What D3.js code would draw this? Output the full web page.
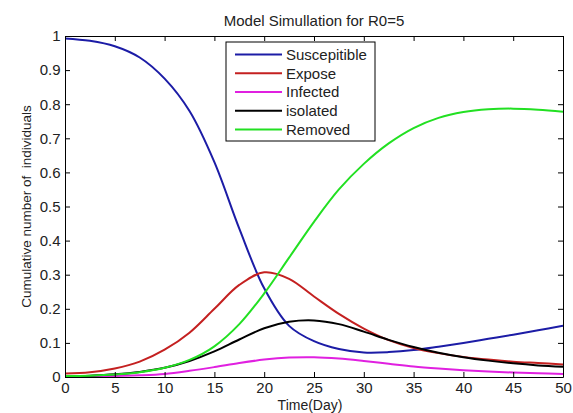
<!DOCTYPE html>
<html>
<head>
<meta charset="utf-8">
<script src="https://cdn.jsdelivr.net/npm/d3@7"></script>
<style>
  body { margin: 0; background: #fff; }
  text { font-family: Arial, "Liberation Sans", sans-serif; fill: #222; }
</style>
</head>
<body>
<svg id="chart" width="573" height="413"></svg>
<script>
// values, every 2.5 days
days = d3.range(0, 50.01, 2.5);
susceptible = [0.993, 0.986, 0.970, 0.937, 0.875, 0.78, 0.63, 0.435, 0.26, 0.15, 0.105, 0.082, 0.072, 0.073, 0.079, 0.089, 0.1, 0.112, 0.124, 0.137, 0.15];
expose      = [0.01, 0.014, 0.025, 0.045, 0.08, 0.13, 0.2, 0.27, 0.307, 0.288, 0.236, 0.185, 0.142, 0.108, 0.085, 0.07, 0.059, 0.051, 0.045, 0.041, 0.037];
infected    = [0.0, 0.001, 0.003, 0.005, 0.009, 0.018, 0.029, 0.041, 0.051, 0.057, 0.058, 0.054, 0.047, 0.039, 0.031, 0.025, 0.02, 0.016, 0.013, 0.011, 0.009];
isolated    = [0.002, 0.004, 0.008, 0.015, 0.027, 0.047, 0.075, 0.11, 0.143, 0.162, 0.166, 0.155, 0.133, 0.109, 0.088, 0.071, 0.058, 0.048, 0.04, 0.034, 0.03];
removed     = [0.003, 0.004, 0.007, 0.014, 0.027, 0.05, 0.09, 0.155, 0.245, 0.35, 0.455, 0.55, 0.625, 0.685, 0.73, 0.76, 0.777, 0.785, 0.787, 0.784, 0.778];

seriesNames = ["Suscepitible", "Expose", "Infected", "isolated", "Removed"];
seriesValues = [susceptible, expose, infected, isolated, removed];
seriesColors = ["#1c1ca6", "#c42020", "#e020e0", "#000000", "#22e022"];

xTicks = d3.range(0, 51, 5);
yTicks = d3.range(0, 1.01, 0.1);

const svg = d3.select("#chart");
const m = {left: 65, top: 36, right: 563, bottom: 377};

const x = d3.scaleLinear().domain([0, 50]).range([m.left, m.right]);
const y = d3.scaleLinear().domain([0, 1]).range([m.bottom, m.top]);

// curves (clipped to the plot box)
svg.append("clipPath").attr("id", "clip")
  .append("rect")
    .attr("x", m.left).attr("y", m.top)
    .attr("width", m.right - m.left).attr("height", m.bottom - m.top);

const line = d3.line()
  .x((d, i) => x(days[i]))
  .y(d => y(d))
  .curve(d3.curveCatmullRom.alpha(0.5));

svg.append("g").attr("clip-path", "url(#clip)")
  .selectAll("path")
  .data(seriesValues)
  .join("path")
    .attr("d", line)
    .attr("fill", "none")
    .attr("stroke", (d, i) => seriesColors[i])
    .attr("stroke-width", 2);

// axes, matlab style: box with inward ticks on every side
const fmt = d => d3.format("")(+d.toFixed(1));

svg.append("g")
  .attr("transform", `translate(0,${m.bottom})`)
  .call(d3.axisBottom(x).tickValues(xTicks).tickSizeInner(-5).tickSizeOuter(0).tickPadding(5))
  .call(g => g.selectAll("text").style("font-size", "15px"));
svg.append("g")
  .attr("transform", `translate(0,${m.top})`)
  .call(d3.axisTop(x).tickValues(xTicks).tickSizeInner(-5).tickSizeOuter(0).tickFormat(""));
svg.append("g")
  .attr("transform", `translate(${m.left},0)`)
  .call(d3.axisLeft(y).tickValues(yTicks).tickFormat(fmt).tickSizeInner(-5).tickSizeOuter(0).tickPadding(4.5))
  .call(g => g.selectAll("text").style("font-size", "15px"));
svg.append("g")
  .attr("transform", `translate(${m.right},0)`)
  .call(d3.axisRight(y).tickValues(yTicks).tickSizeInner(-5).tickSizeOuter(0).tickFormat(""));

svg.selectAll(".domain").attr("stroke", "#000");
svg.selectAll(".tick line").attr("stroke", "#000");
svg.selectAll(".tick text").attr("fill", "#222");

// titles
svg.append("text")
  .attr("x", (m.left + m.right) / 2).attr("y", 26)
  .attr("text-anchor", "middle").style("font-size", "15px")
  .text("Model Simullation for R0=5");
svg.append("text")
  .attr("x", 310).attr("y", 410)
  .attr("text-anchor", "middle").style("font-size", "14px")
  .text("Time(Day)");
svg.append("text")
  .attr("transform", `translate(31,${(m.top + m.bottom) / 2}) rotate(-90)`)
  .attr("text-anchor", "middle").style("font-size", "13.5px")
  .style("white-space", "pre")
  .text("Cumulative number of  individuals");

// legend
const leg = svg.append("g").attr("transform", "translate(226,42)");
leg.append("rect")
  .attr("width", 149).attr("height", 99)
  .attr("fill", "#fff").attr("stroke", "#000");
const row = leg.selectAll("g.row")
  .data(seriesNames)
  .join("g")
    .attr("class", "row")
    .attr("transform", (d, i) => `translate(0,${12.5 + i * 18.75})`);
row.append("line")
  .attr("x1", 9).attr("x2", 56)
  .attr("stroke", (d, i) => seriesColors[i])
  .attr("stroke-width", 2);
row.append("text")
  .attr("x", 60).attr("dy", "0.36em")
  .style("font-size", "15px")
  .text(d => d);
</script>
</body>
</html>
